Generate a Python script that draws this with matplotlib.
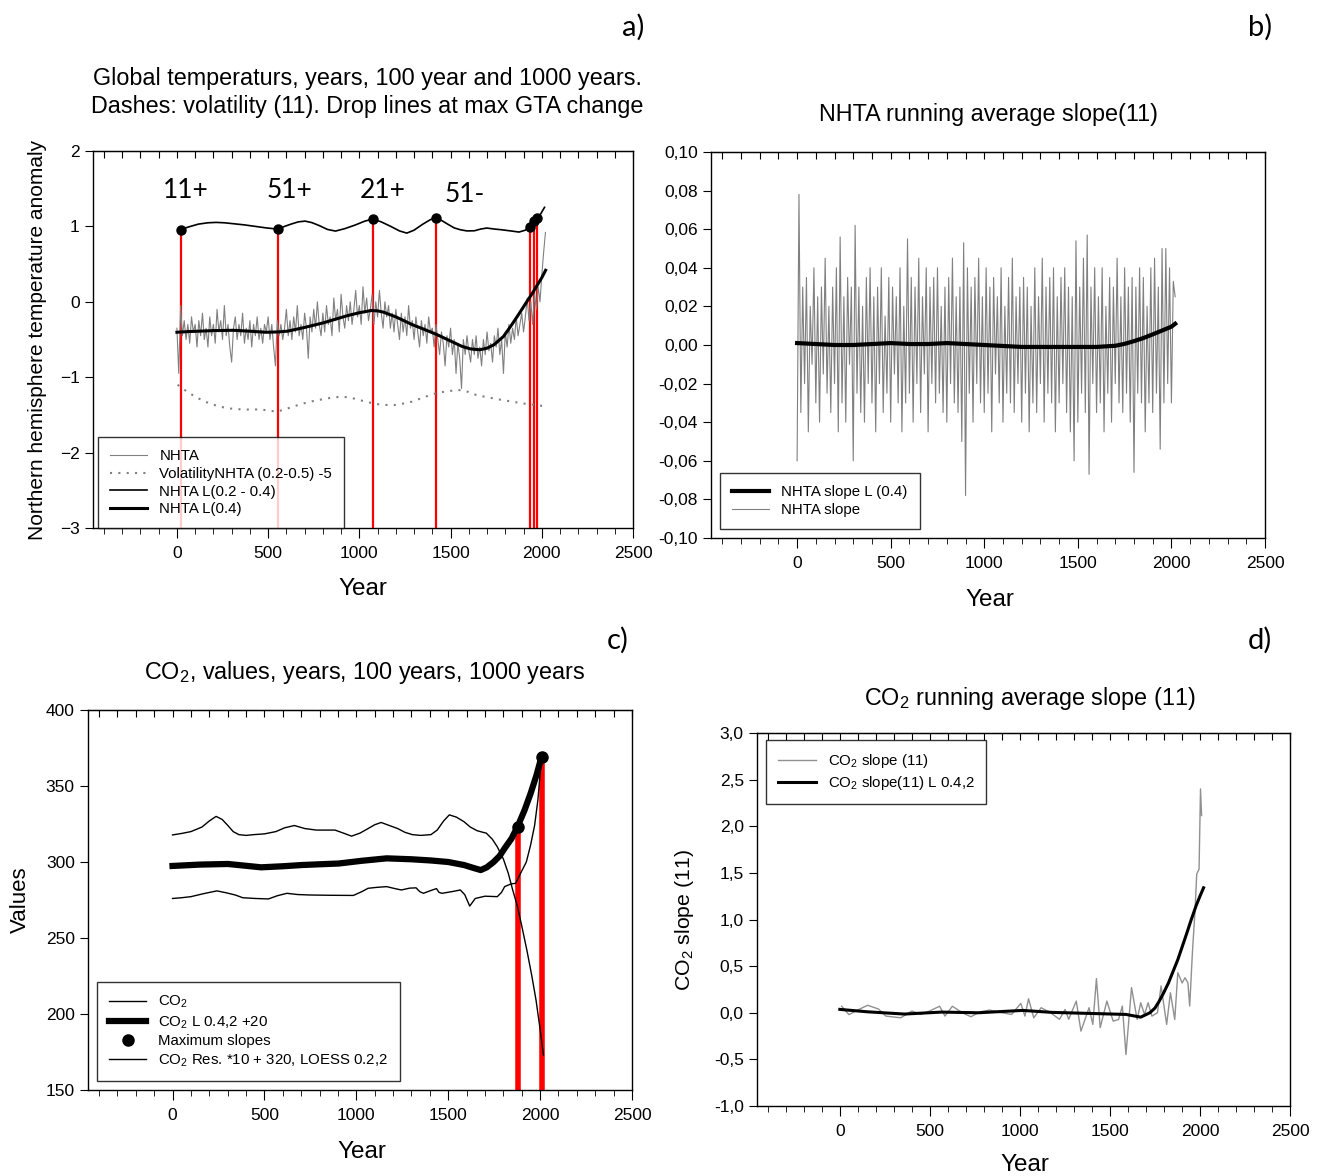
import numpy as np
import matplotlib.pyplot as plt
from matplotlib.ticker import MultipleLocator, FuncFormatter

plt.rcParams['font.family'] = ['Liberation Sans', 'DejaVu Sans']
plt.rcParams['mathtext.default'] = 'regular'

# ---------------- panel a data ----------------
nhta_years = list(range(0, 2021, 10))
nhta = [-0.35, -0.95, -0.05, -0.45, -0.25, -0.5, -0.3, -0.55, -0.2, -0.4, -0.3, -0.6, -0.25, -0.45, -0.15, -0.5, -0.35, -0.6, -0.2, -0.45,
        -0.3, -0.55, -0.1, -0.4, -0.25, -0.5, -0.05, -0.45, -0.3, -0.6, -0.8, -0.35, -0.2, -0.5, -0.3, -0.45, -0.15, -0.55, -0.35, -0.5,
        -0.25, -0.6, -0.3, -0.45, -0.2, -0.5, -0.35, -0.55, -0.3, -0.4, -0.2, -0.5, -0.3, -0.6, -0.85, -0.25, -0.45, -0.3, -0.5, -0.35,
        -0.1, -0.45, -0.25, -0.5, -0.2, -0.4, -0.05, -0.45, -0.3, -0.5, -0.15, -0.35, -0.75, -0.2, -0.4, -0.1, -0.35, 0.0, -0.3, -0.45,
        -0.15, -0.4, -0.05, -0.3, -0.2, -0.45, 0.05, -0.25, -0.1, -0.4, 0.1, -0.2, -0.35, -0.05, -0.25, 0.0, -0.3, -0.1, 0.15, -0.2,
        -0.05, -0.3, 0.2, -0.15, 0.05, -0.25, -0.1, 0.1, -0.3, 0.0, -0.2, 0.15, -0.15, -0.35, 0.0, -0.2, -0.05, -0.35, -0.15, -0.4,
        -0.1, -0.3, -0.5, -0.15, -0.4, -0.2, -0.45, -0.05, -0.35, -0.25, -0.5, -0.2, -0.4, -0.6, -0.25, -0.45, -0.3, -0.55, -0.2, -0.4,
        -0.35, -0.6, -0.3, -0.5, -0.7, -0.4, -0.55, -0.85, -0.45, -0.6, -0.35, -0.7, -0.5, -0.95, -0.55, -0.75, -1.15, -0.5, -0.7, -0.45,
        -0.65, -0.8, -0.5, -0.7, -0.45, -0.75, -0.6, -0.85, -0.5, -0.7, -0.4, -0.65, -0.55, -0.8, -0.45, -0.6, -0.35, -0.7, -0.5, -0.95,
        -0.4, -0.6, -0.3, -0.55, -0.35, -0.5, -0.2, -0.45, -0.3, -0.15, -0.4, -0.2, 0.05, -0.25, 0.0, -0.3, 0.1, -0.1, 0.2, 0.0,
        0.35, 0.65, 0.92]

vol_years = [4, 60, 117, 175, 234, 290, 352, 400, 449, 500, 547, 600, 664, 720, 781, 840, 898, 950, 996, 1045, 1094, 1140,
             1191, 1240, 1289, 1350, 1406, 1470, 1543, 1590, 1641, 1710, 1777, 1840, 1894, 1950, 2002]
vol = [-1.1, -1.2, -1.28, -1.345, -1.39, -1.415, -1.427, -1.43, -1.427, -1.44, -1.458, -1.42, -1.369, -1.33, -1.3, -1.275,
       -1.258, -1.27, -1.3, -1.33, -1.356, -1.368, -1.369, -1.35, -1.324, -1.27, -1.222, -1.19, -1.169, -1.19, -1.236,
       -1.27, -1.3, -1.325, -1.347, -1.365, -1.38]

up_years = [20, 60, 117, 170, 215, 260, 312, 370, 430, 490, 553, 590, 625, 665, 703, 740, 781, 825, 869, 920, 977, 1030,
            1074, 1120, 1172, 1220, 1260, 1300, 1348, 1390, 1420, 1450, 1484, 1520, 1553, 1590, 1631, 1665, 1699, 1740,
            1777, 1830, 1875, 1910, 1930, 1950, 1972, 1995, 2015]
up = [0.956, 0.99, 1.03, 1.048, 1.053, 1.048, 1.035, 1.02, 1.0, 0.98, 0.964, 1.0, 1.03, 1.06, 1.07, 1.05, 1.01, 0.96,
      0.938, 0.97, 1.018, 1.07, 1.098, 1.06, 1.0, 0.94, 0.911, 0.95, 1.03, 1.09, 1.107, 1.08, 1.03, 0.98, 0.956, 0.94,
      0.942, 0.965, 0.978, 0.965, 0.956, 0.94, 0.925, 0.95, 1.0, 1.05, 1.098, 1.17, 1.253]

l04_years = [0, 60, 117, 200, 312, 400, 488, 550, 605, 700, 801, 870, 937, 1000, 1064, 1100, 1133, 1200, 1289, 1360,
             1426, 1500, 1562, 1610, 1660, 1700, 1738, 1790, 1836, 1875, 1914, 1945, 1972, 2000, 2021]
l04 = [-0.404, -0.395, -0.39, -0.382, -0.378, -0.39, -0.404, -0.4, -0.39, -0.34, -0.28, -0.23, -0.182, -0.145, -0.116,
       -0.12, -0.138, -0.2, -0.302, -0.37, -0.436, -0.52, -0.591, -0.625, -0.636, -0.615, -0.569, -0.46, -0.302, -0.16,
       -0.013, 0.1, 0.209, 0.32, 0.418]

drop_years = [20, 553, 1074, 1420, 1933, 1960, 1974]
drop_vals = [0.956, 0.964, 1.098, 1.107, 0.99, 1.07, 1.11]
a_notes = ['11+', '51+', '21+', '51-']
a_note_x = [50, 618, 1126, 1578]
a_note_y = [1.48, 1.48, 1.48, 1.42]

# ---------------- panel b data ----------------
slope_years = list(range(0, 2021, 10))
slope = [-0.06, 0.078, -0.035, 0.03, -0.02, 0.035, -0.045, 0.02, -0.01, 0.04, -0.03, 0.025, -0.04, 0.03, -0.015, 0.045, -0.025, 0.02, -0.035, 0.03,
         -0.02, 0.04, -0.045, 0.056, -0.03, 0.025, -0.04, 0.035, -0.01, 0.03, -0.06, 0.062, -0.025, 0.03, -0.035, 0.02, -0.04, 0.035, -0.02, 0.04,
         -0.03, 0.025, -0.045, 0.03, -0.02, 0.04, -0.035, 0.015, -0.025, 0.035, -0.04, 0.03, -0.015, 0.025, -0.03, 0.04, -0.045, 0.02, -0.03, 0.055,
         -0.025, 0.035, -0.04, 0.03, -0.02, 0.045, -0.035, 0.025, -0.015, 0.04, -0.045, 0.03, -0.02, 0.035, -0.03, 0.04, -0.025, 0.02, -0.035, 0.03,
         -0.04, 0.035, -0.02, 0.045, -0.03, 0.025, -0.035, 0.03, -0.05, 0.053, -0.078, 0.04, -0.025, 0.03, -0.04, 0.035, -0.02, 0.045, -0.03, 0.025,
         -0.035, 0.04, -0.025, 0.03, -0.045, 0.035, -0.015, 0.025, -0.03, 0.04, -0.04, 0.02, -0.025, 0.035, -0.03, 0.045, -0.035, 0.025, -0.02, 0.03,
         -0.04, 0.035, -0.025, 0.03, -0.045, 0.02, -0.03, 0.04, -0.035, 0.025, -0.02, 0.045, -0.04, 0.03, -0.025, 0.035, -0.03, 0.04, -0.045, 0.025,
         -0.03, 0.035, -0.02, 0.04, -0.035, 0.03, -0.045, 0.025, -0.06, 0.054, -0.04, 0.03, -0.025, 0.045, -0.035, 0.057, -0.067, 0.03, -0.02, 0.04,
         -0.035, 0.025, -0.03, 0.04, -0.045, 0.02, -0.025, 0.035, -0.04, 0.03, -0.02, 0.045, -0.03, 0.025, -0.035, 0.04, -0.025, 0.03, -0.04, 0.035,
         -0.066, 0.03, -0.025, 0.04, -0.03, 0.035, -0.045, 0.02, -0.03, 0.04, -0.035, 0.045, -0.025, 0.03, -0.054, 0.05, -0.03, 0.05, -0.02, 0.04,
         -0.03, 0.033, 0.025]

slope_l_years = [0, 100, 200, 300, 400, 500, 600, 700, 800, 900, 1000, 1100, 1200, 1300, 1400, 1500, 1600, 1700, 1750,
                 1800, 1850, 1900, 1950, 2000, 2020]
slope_l = [0.001, 0.0005, 0.0, 0.0, 0.0005, 0.001, 0.0005, 0.0005, 0.001, 0.0005, 0.0, -0.0005, -0.001, -0.001, -0.001,
           -0.001, -0.001, -0.0004, 0.0006, 0.002, 0.0036, 0.0055, 0.0075, 0.0095, 0.011]

# ---------------- panel c data ----------------
co2_years = [0, 50, 100, 170, 241, 290, 341, 382, 450, 522, 570, 622, 680, 743, 860, 984, 1030, 1064, 1110, 1165, 1210,
             1245, 1290, 1325, 1345, 1365, 1400, 1436, 1450, 1466, 1520, 1566, 1590, 1617, 1647, 1700, 1767, 1790, 1807,
             1840, 1867, 1898, 1925, 1948, 1970, 1988, 2008]
co2 = [276, 276.5, 277.2, 279.2, 281, 279.8, 278.3, 276.5, 276, 275.7, 277.8, 279.4, 278.6, 278.3, 278.1, 278, 280.5,
       282.7, 283.3, 283.8, 282.5, 281.6, 282.8, 283, 280.5, 279.4, 281, 282.5, 280, 279.4, 280.5, 281.6, 278.5, 271,
       276, 277.5, 277.2, 280, 283.8, 285.5, 286, 293.6, 300, 311, 324, 340.8, 369.3]

co2_l_years = [0, 150, 301, 400, 482, 600, 703, 800, 904, 1030, 1165, 1300, 1406, 1500, 1586, 1640, 1677, 1710, 1747,
               1780, 1807, 1845, 1877, 1915, 1948, 1980, 2008]
co2_l = [297.4, 298.3, 298.7, 297.5, 296.5, 297.2, 298, 298.5, 299, 300.8, 302.4, 301.8, 301, 300, 298, 296, 294.7,
         296.5, 300, 304, 309, 315.5, 323.2, 334, 345, 357, 369.3]

res_years = [0, 50, 100, 160, 200, 237, 270, 301, 330, 361, 400, 442, 500, 562, 610, 663, 720, 783, 830, 884, 930, 974,
             1020, 1064, 1100, 1135, 1180, 1225, 1265, 1305, 1350, 1406, 1440, 1475, 1506, 1545, 1586, 1620, 1657, 1690,
             1707, 1740, 1767, 1800, 1827, 1850, 1877, 1900, 1928, 1955, 1978, 2000, 2018]
res = [317.8, 318.8, 320, 323, 327, 330, 328, 324, 320, 318, 317.5, 318, 318.5, 320, 322.5, 324, 322, 321, 321, 321,
       319, 317, 319, 322, 324.5, 326, 324, 322, 319.5, 318, 317.5, 318, 321, 327, 331, 329.5, 326.5, 323, 320.6, 319.5,
       319, 315, 310, 302, 292.5, 282, 270.6, 258, 242, 225, 209, 190, 173]

max_years = [1877, 2008]
max_vals = [323.2, 369.3]

# ---------------- panel d data ----------------
cs_years = [10, 51, 100, 154, 215, 256, 338, 400, 451, 500, 554, 584, 625, 680, 728, 780, 831, 900, 954, 1005, 1028,
            1048, 1077, 1118, 1170, 1220, 1251, 1271, 1313, 1339, 1384, 1405, 1425, 1446, 1483, 1518, 1548, 1569,
            1589, 1620, 1651, 1671, 1692, 1712, 1733, 1764, 1784, 1815, 1836, 1860, 1877, 1901, 1917, 1933, 1943,
            1958, 1972, 1982, 1995, 2003, 2009]
cs = [0.07, -0.02, 0.03, 0.08, 0.04, -0.036, -0.054, 0.018, -0.018, 0.02, 0.07, -0.036, 0.07, 0.0, -0.043, 0.01, 0.029,
      0.0, -0.018, 0.1, -0.036, 0.15, -0.054, 0.054, 0.0, -0.07, 0.036, -0.07, 0.125, -0.197, 0.054, -0.125, 0.366,
      -0.16, 0.125, -0.09, -0.072, 0.072, -0.448, 0.27, -0.072, 0.107, -0.018, 0.107, -0.036, 0.0, 0.287, -0.125, 0.215,
      -0.072, 0.43, 0.32, 0.376, 0.32, 0.072, 0.645, 1.075, 1.487, 1.54, 2.4, 2.115]

cs_l_years = [0, 154, 359, 564, 769, 1015, 1179, 1384, 1589, 1671, 1722, 1750, 1774, 1800, 1825, 1850, 1877, 1900,
              1928, 1950, 1979, 2000, 2020]
cs_l = [0.036, 0.01, -0.014, 0.007, 0.0, 0.025, 0.004, -0.007, -0.018, -0.047, 0.0, 0.05, 0.125, 0.22, 0.32, 0.44,
        0.57, 0.7, 0.86, 0.99, 1.15, 1.25, 1.34]

W, H = 1320, 1176
fig = plt.figure(figsize=(W / 100, H / 100), dpi=100)


def box(l, t, r, b):
    return fig.add_axes([l / W, 1 - b / H, (r - l) / W, (b - t) / H])


def ftext(x, y, s, **kw):
    fig.text(x / W, 1 - y / H, s, ha='center', va='center', **kw)


def style(ax):
    ax.set_xlim(-460, 2500)
    ax.set_xticks(range(0, 2501, 500))
    ax.xaxis.set_minor_locator(MultipleLocator(100))
    ax.tick_params(axis='x', which='major', direction='out', length=7, labelsize=12.5, pad=6)
    ax.tick_params(axis='x', which='minor', direction='out', length=4)
    ax.tick_params(axis='y', which='major', direction='out', length=6, labelsize=12.5)
    top = ax.secondary_xaxis('top')
    top.set_xticks(range(-400, 2501, 100))
    top.tick_params(direction='in', length=5, labeltop=False)
    for sp in ax.spines.values():
        sp.set_linewidth(1.0)


def leg(ax, anchor, **kw):
    lg = ax.legend(loc='upper left', bbox_to_anchor=anchor, borderaxespad=0, fancybox=False,
                   edgecolor='black', fontsize=10.8, handlelength=2.5, labelspacing=0.25,
                   borderpad=0.8, **kw)
    lg.get_frame().set_linewidth(1.0)
    return lg


# ---- a) ----
ax = box(93, 151, 633, 528)
style(ax)
ax.set_ylim(-3, 2)
ax.set_yticks([-3, -2, -1, 0, 1, 2])
ax.vlines(drop_years, -3, drop_vals, color='red', lw=1.6, zorder=1)
ax.plot(nhta_years, nhta, color='#808080', lw=0.8, label='NHTA')
ax.plot(vol_years, vol, color='#808080', lw=1.5, ls=(0, (1, 3)), label='VolatilityNHTA (0.2-0.5) -5')
ax.plot(up_years, up, color='black', lw=1.2, label='NHTA L(0.2 - 0.4)')
ax.plot(l04_years, l04, color='black', lw=2.2, label='NHTA L(0.4)')
ax.plot(drop_years, drop_vals, 'o', color='black', ms=6.5)
for s, x, y in zip(a_notes, a_note_x, a_note_y):
    ax.text(x, y, s, ha='center', va='center', fontsize=19, family=['Lato', 'DejaVu Sans'])
leg(ax, (0.009, 0.241))

# ---- b) ----
ax = box(711, 152, 1265, 538)
style(ax)
ax.set_ylim(-0.1, 0.1)
ax.set_yticks(np.arange(-0.1, 0.1001, 0.02))
ax.yaxis.set_major_formatter(FuncFormatter(lambda v, p: f'{v:.2f}'.replace('.', ',').replace('-0,00', '0,00')))
l1, = ax.plot(slope_years, slope, color='#808080', lw=0.8, label='NHTA slope')
l2, = ax.plot(slope_l_years, slope_l, color='black', lw=3, label='NHTA slope L (0.4)')
leg(ax, (0.016, 0.168), handles=[l2, l1])

# ---- c) ----
ax = box(88, 710, 632, 1090)
style(ax)
ax.set_ylim(150, 400)
ax.set_yticks(range(150, 401, 50))
ax.vlines(max_years, 150, max_vals, color='red', lw=4, zorder=1)
ax.plot(co2_years, co2, color='black', lw=1.0, label='CO$_2$')
ax.plot(co2_l_years, co2_l, color='black', lw=4.5, label='CO$_2$ L 0.4,2 +20')
ax.plot(max_years, max_vals, 'o', color='black', ms=8, label='Maximum slopes')
ax.plot(res_years, res, color='black', lw=1.0, label='CO$_2$ Res. *10 + 320, LOESS 0.2,2')
leg(ax, (0.0165, 0.284))

# ---- d) ----
ax = box(757, 733, 1290, 1106)
style(ax)
ax.set_ylim(-1, 3)
ax.set_yticks(np.arange(-1, 3.01, 0.5))
ax.yaxis.set_major_formatter(FuncFormatter(lambda v, p: f'{v:.1f}'.replace('.', ',').replace('-0,0', '0,0')))
ax.plot(cs_years, cs, color='#909090', lw=1.0, label='CO$_2$ slope (11)')
ax.plot(cs_l_years, cs_l, color='black', lw=2.2, label='CO$_2$ slope(11) L 0.4,2')
leg(ax, (0.017, 0.981))

# ---- texts ----
ftext(367, 79, 'Global temperaturs, years, 100 year and 1000 years.', fontsize=16.8)
ftext(367, 106, 'Dashes: volatility (11). Drop lines at max GTA change', fontsize=16.8)
ftext(988, 115, 'NHTA running average slope(11)', fontsize=16.8)
ftext(365, 673, 'CO$_2$, values, years, 100 years, 1000 years', fontsize=16.8)
ftext(1030, 698, 'CO$_2$ running average slope (11)', fontsize=16.8)
for s, x, y in [('a)', 633, 27), ('b)', 1260, 27), ('c)', 618, 640), ('d)', 1260, 640)]:
    ftext(x, y, s, fontsize=21, family=['Lato', 'DejaVu Sans'])
for x, y in [(363, 589), (990, 600), (362, 1152), (1025, 1165)]:
    ftext(x, y, 'Year', fontsize=17.5)
ftext(38, 340, 'Northern hemisphere temperature anomaly', fontsize=15)
fig.texts[-1].set_rotation(90)
ftext(20, 900, 'Values', fontsize=16, rotation=90)
ftext(685, 920, 'CO$_2$ slope (11)', fontsize=15.3, rotation=90)

fig.savefig('out.png', dpi=100)
